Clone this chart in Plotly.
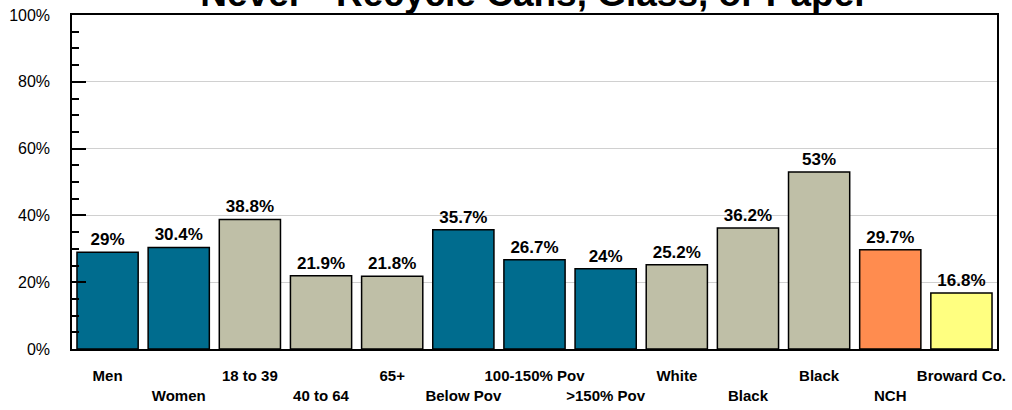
import plotly.graph_objects as go

# Categories (tick labels) and values
labels = ['Men', 'Women', '18 to 39', '40 to 64', '65+', 'Below Pov',
          '100-150% Pov', '>150% Pov', 'White', 'Black', 'Black', 'NCH',
          'Broward Co.']
values = [29, 30.4, 38.8, 21.9, 21.8, 35.7, 26.7, 24, 25.2, 36.2, 53, 29.7, 16.8]
groups = ['sex', 'sex', 'age', 'age', 'age', 'pov', 'pov', 'pov',
          'race', 'race', 'race', 'nch', 'county']

group_colors = {'sex': '#006C8E', 'age': '#BFBFA7', 'pov': '#006C8E',
                'race': '#BFBFA7', 'nch': '#FF8C4F', 'county': '#FFFF80'}

xpos = list(range(len(labels)))
# alternate labels onto two rows
ticktext = [lab if i % 2 == 0 else '<br>' + lab for i, lab in enumerate(labels)]

fig = go.Figure(go.Bar(
    x=xpos,
    y=values,
    marker=dict(color=[group_colors[g] for g in groups],
                line=dict(color='black', width=1.5)),
    text=[f'{v:g}%' for v in values],
    textposition='outside',
    cliponaxis=False,
    textfont=dict(family='Liberation Sans', size=17, color='black',
                  weight='bold'),
    hoverinfo='x+y',
))

fig.update_layout(
    width=1012, height=410,
    margin=dict(l=72, r=15, t=15, b=61),
    paper_bgcolor='white', plot_bgcolor='white',
    bargap=0.14,
    showlegend=False,
    title=dict(text='<b>Never - Recycle Cans, Glass, or Paper</b>',
               font=dict(family='Liberation Sans', size=37, color='black'),
               x=0.5, xref='paper', y=1 - 6 / 410, yref='container',
               yanchor='bottom'),
)

fig.update_xaxes(
    range=[-0.5, len(labels) - 0.5],
    tickvals=xpos, ticktext=ticktext, tickangle=0,
    tickfont=dict(family='Liberation Sans', size=15, color='black',
                  weight='bold'),
    ticks='outside', ticklen=12, tickcolor='rgba(0,0,0,0)',
    showline=True, linecolor='black', linewidth=2, mirror=True,
    showgrid=False, zeroline=False, automargin=False,
)

fig.update_yaxes(
    range=[0, 100], dtick=20, ticksuffix='%',
    tickfont=dict(family='Liberation Sans', size=16, color='black'),
    ticks='inside', ticklen=14, tickcolor='black', tickwidth=1.5,
    ticklabelstandoff=17,
    minor=dict(dtick=5, ticks='inside', ticklen=7, tickcolor='black',
               tickwidth=1.5, showgrid=False),
    showline=True, linecolor='black', linewidth=1.5, mirror=True,
    showgrid=True, gridcolor='#D0D0D0', gridwidth=1,
    zeroline=False, automargin=False,
)

# drop the default page margin so the figure sits at the window corner
fig.write_html('out.html', config={'displayModeBar': False},
               post_script="document.body.style.margin='0px';")
